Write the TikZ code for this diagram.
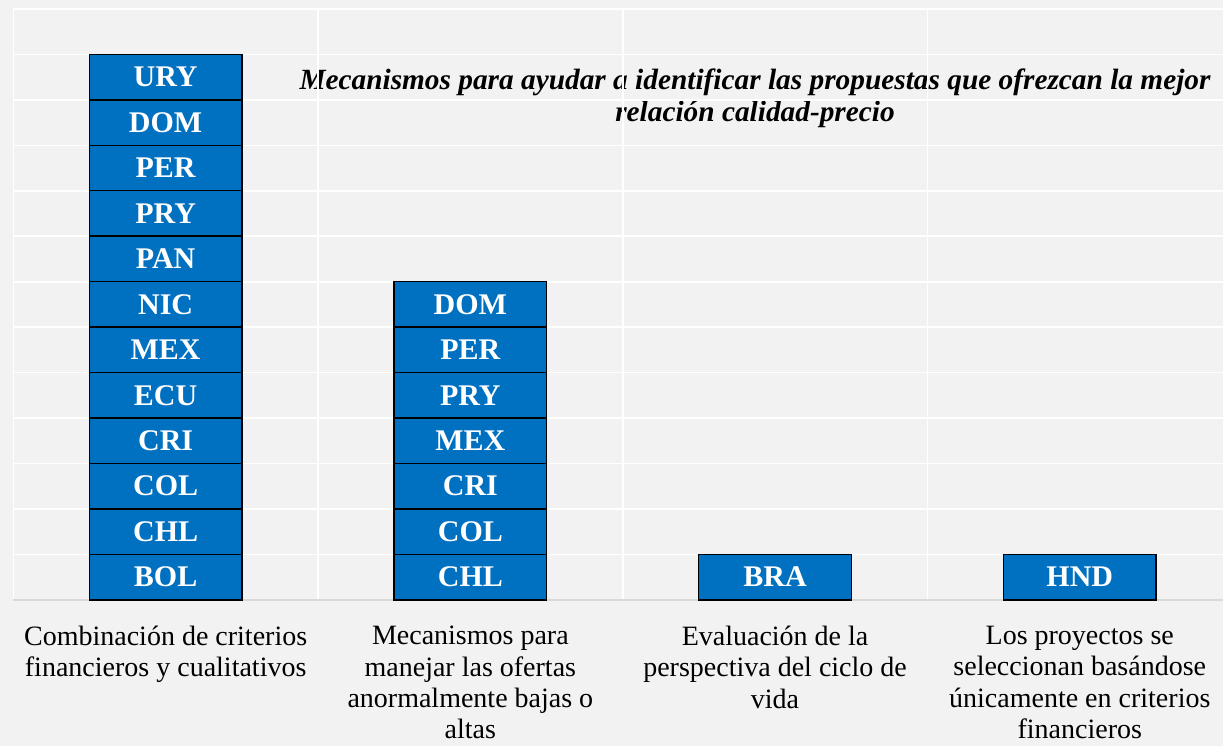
\documentclass[tikz,border=0pt]{standalone}
\usepackage{fontspec}
\setmainfont{Liberation Serif}
\usetikzlibrary{positioning}
\definecolor{barblue}{HTML}{0070C0}
\definecolor{backgray}{HTML}{F2F2F2}
\definecolor{axisgray}{HTML}{D9D9D9}
\tikzset{
  cell/.style={draw=black, line width=1.1pt, fill=barblue, text=white,
    font=\fontsize{22.5}{26}\selectfont\bfseries,
    minimum width=114.45pt, minimum height=34.1pt, inner sep=0pt},
  catlabel/.style={align=center, anchor=north, inner sep=0pt,
    font=\fontsize{21}{23.4}\selectfont},
  gridline/.style={white, line width=1.2pt}
}
\begin{document}
\begin{tikzpicture}[x=0.75pt,y=-0.75pt]
\def\rowh{45.45}
\def\colw{304.7}

\fill[backgray] (0,0) rectangle (1223,746);
\useasboundingbox (0,0) rectangle (1223,746);

% title sits under the grid
\node[align=center, font=\fontsize{22}{24}\selectfont\bfseries\itshape] (title) at (755,98)
  {Mecanismos para ayudar a identificar las propuestas que ofrezcan la mejor\\relación calidad-precio};

\foreach \k in {0,...,12}
  \draw[gridline] (13.3,9+\k*\rowh) -- (1223,9+\k*\rowh);
\foreach \k in {0,...,3}
  \draw[gridline] (13.3+\k*\colw,9) -- (13.3+\k*\colw,599.8);
\draw[axisgray, line width=1.3pt] (13.3,599.8) -- (1223,599.8);

% stacked bars, bottom cell first
\foreach \list [count=\i] in {{BOL,CHL,COL,CRI,ECU,MEX,NIC,PAN,PRY,PER,DOM,URY},
                              {CHL,COL,CRI,MEX,PRY,PER,DOM},{BRA},{HND}}
  \foreach \lbl [count=\k] in \list
    \node[cell] (b\i-\k) at (165.65+\i*\colw-\colw,599.8-\k*\rowh+0.5*\rowh) {\lbl};

\node[catlabel] (cat1) at (165.65,626) {Combinación de criterios\\financieros y cualitativos};
\node[catlabel] (cat2) at (470.35,626) {Mecanismos para\\manejar las ofertas\\anormalmente bajas o\\altas};
\node[catlabel] (cat3) at (775.05,626) {Evaluación de la\\perspectiva del ciclo de\\vida};
\node[catlabel] (cat4) at (1079.75,626) {Los proyectos se\\seleccionan basándose\\únicamente en criterios\\financieros};
\end{tikzpicture}
\end{document}
